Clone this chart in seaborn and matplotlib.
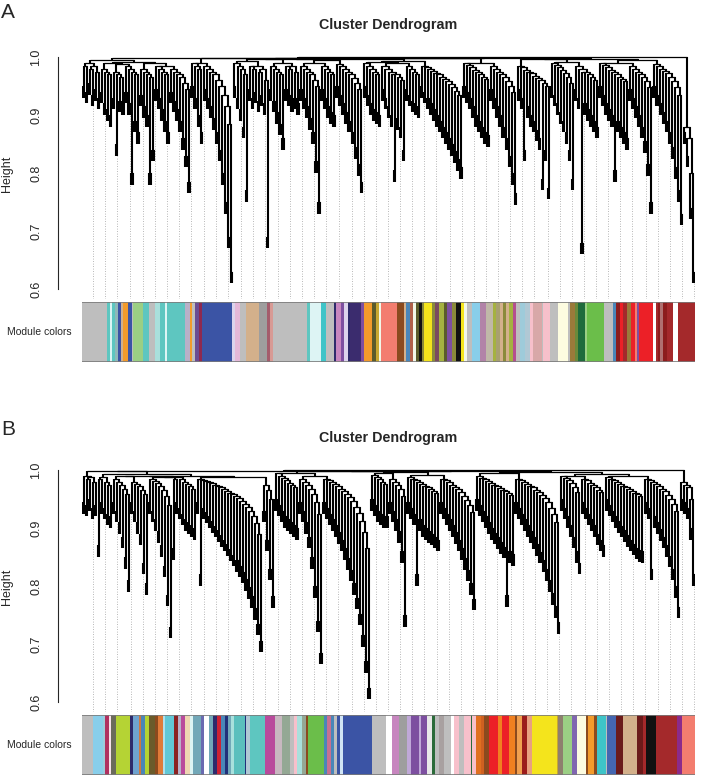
import numpy as np
import matplotlib
matplotlib.use('Agg')
import matplotlib.pyplot as plt
from matplotlib.collections import LineCollection
from matplotlib.colors import ListedColormap
import seaborn as sns

# ---- panel A dendrogram, one entry per branch (x1000):
# (heights where two neighbouring leaves pair up, heights linking consecutive pairs)
a_branches = [
    ("950 940 955 935 945 930", "985 990 980 985 975"),
    ("940 920 910 900", "980 975 970"),
    ("930 850 925 920", "975 970 965"),
    ("940 920 800 890 870", "985 980 975 970"),
    ("935 915 900 800 840", "980 975 970 965"),
    ("945 930 910 890 870", "985 980 975 970"),
    ("940 925 910 890 860 830 785", "980 975 970 965 955 945"),
    ("950 930 900 870", "990 985 980"),
    ("945 930 915 895 870 840 800 750 690 630", "985 980 975 970 960 950 935 915 885"),
    ("950 930 910 880 770", "990 985 980 970"),
    ("945 930 940 925 935 920 690", "985 980 985 975 980 960"),
    ("945 925 905 885 860", "985 980 975 970"),
    ("945 935 925 930 920", "985 980 985 975"),
    ("945 930 915 895 870 820 750", "985 980 975 970 960 950"),
    ("945 930 915 905 900", "985 980 975 970"),
    ("950 935 920 905 890 870 845 815 785", "988 984 980 975 970 963 955 945"),
    ("950 935 920 910 905 900", "990 985 980 975 970"),
    ("945 930 915 900 805 895 880 840", "985 980 975 970 970 965 960"),
    ("945 935 925 920 915", "985 980 975 970"),
    ("950 940 930 920 910 900 890 880 870 860 850 838 824 810",
     "985 982 979 976 973 970 966 962 958 953 948 942 935"),
    ("950 940 930 915 900 890 880 870 865", "990 986 982 978 974 970 966 962"),
    ("945 930 915 900 880 860 830 800 765", "985 980 975 970 965 958 950 940"),
    ("945 930 840 915 900 890 875 860 790 840 775", "985 982 978 975 972 968 964 960 955 950"),
    ("950 935 920 905 890 870 840 790", "990 986 982 978 972 965 955"),
    ("945 930 680 920 910 900 890 880", "985 980 975 975 970 965 960"),
    ("950 935 920 910 900 805 890 880 870 860", "990 986 982 978 974 970 966 962 958"),
    ("945 930 915 900 880 855 815 750", "985 980 975 970 965 958 948"),
    ("950 935 920 905 890 870 845 810 770 730", "988 984 980 976 972 966 958 948 935"),
    ("870 830 740 630", "880 860 800"),
]
# heights joining consecutive branches
a_joins = [995, 990, 988, 992, 990, 985, 999, 990, 998, 993, 996, 990, 996, 990,
           994, 997, 992, 990, 993, 998, 990, 998, 996, 992, 997, 990, 995, 1000]

# ---- panel B dendrogram
b_branches = [
    ("945 940 950 935 940", "990 985 988 980"),
    ("870 945 935 925 920", "985 988 980 975"),
    ("945 930 910 885 850 810", "985 980 975 968 958"),
    ("945 930 910 890 840 805", "980 976 972 966 958"),
    ("945 930 915 895 870 835 785 730", "985 981 977 972 965 955 940"),
    ("865 945 935 925 915 910 905 900", "985 988 984 980 976 972 968"),
    ("945 820 935 928 920 912 904 896 888 880 872 863 854 845 835 825 812 798 782 762 735 706",
     "985 983 981 979 977 975 973 970 967 964 961 958 955 951 947 942 936 929 920 908 890"),
    ("930 880 830 782", "975 965 950"),
    ("950 940 930 920 915 910 905 900", "995 990 986 982 978 974 970"),
    ("945 930 910 885 850 800 740 685", "985 980 975 968 958 944 925"),
    ("945 935 925 915 905 893 880 865 848 828 805 780 752 715 670 625",
     "985 982 979 976 972 968 964 959 953 946 937 926 912 893 865"),
    ("950 940 930 925 920 920", "992 988 984 980 976"),
    ("945 930 915 895 860 750", "985 980 975 968 955"),
    ("945 935 925 820 915 905 900 895 890 885 880", "988 985 982 979 976 973 970 967 964 960"),
    ("945 935 925 915 905 893 880 865 848 828 805 778", "985 982 979 975 971 967 962 956 949 940 928"),
    ("950 940 930 920 910 900 892 884 876 868 784 860 855",
     "990 987 984 981 978 975 972 969 966 963 960 957"),
    ("945 935 925 915 905 895 884 872 859 845 829 810 788 765 738",
     "985 982 979 976 973 970 966 962 957 951 944 935 924 910"),
    ("950 935 920 905 885 860 840", "990 986 982 977 970 962"),
    ("945 935 925 915 905 890 880 870", "985 982 978 974 970 966 962"),
    ("950 940 930 920 912 904 896 888 880 873 866 862 860",
     "988 985 982 979 976 973 970 967 964 961 958 955"),
    ("945 935 830 920 910 898 885 870 852 830 800 764", "985 982 979 976 972 968 963 957 950 941 930"),
    ("950 945 935 900 820", "980 975 970 950"),
]
b_joins = [998, 993, 990, 990, 988, 990, 988, 999, 995, 990, 998,
           994, 996, 992, 998, 994, 996, 990, 993, 990, 1000]

# ---- module colours (name, number of genes) in dendrogram order
a_modules = [
    ('grey', 25), ('turquoise', 3), ('lightcyan', 2), ('turquoise', 3), ('cadetgrey', 3),
    ('blue', 3), ('tan', 2), ('orange', 5), ('blue', 4), ('grey', 1), ('lightgreen', 10),
    ('turquoise', 6), ('grey', 6), ('paleturquoise', 5), ('turquoise', 5), ('lightcyan', 2),
    ('turquoise', 18), ('thistle', 5), ('orange', 2), ('grey', 3), ('darkpurple', 4),
    ('maroon', 3), ('blue', 30), ('lavender', 3), ('plum', 5), ('grey', 6), ('tan', 13),
    ('darkgrey', 8), ('rosy', 3), ('pinkbrown', 3), ('grey', 34), ('turquoise', 3),
    ('lightcyan', 11), ('cyan', 5), ('grey', 8), ('midnightblue', 2), ('orchid', 5),
    ('purple', 3), ('lavender', 4), ('midnightblue', 2), ('darkslateblue', 11), ('purple', 3),
    ('orange', 8), ('darkolive', 4), ('gold', 3), ('honeydew', 2), ('salmon', 16),
    ('saddlebrown', 7), ('tan', 2), ('steelblue', 4), ('sienna', 3), ('honeydew', 3),
    ('darkolive', 3), ('black', 3), ('olive', 2), ('yellow', 8), ('olive', 3),
    ('plumbrown', 4), ('yellowgreen', 5), ('darkolive', 3), ('purple', 5), ('olive', 4),
    ('black', 5), ('yellow', 3), ('honeydew', 3), ('grey', 5), ('skyblue', 8), ('mauve', 6),
    ('greytan', 7), ('yellowgreen', 3), ('olivetan', 4), ('tan', 3), ('olive', 3), ('tan', 3),
    ('yellowgreen', 4), ('violetred', 3), ('grey', 4), ('lightblue', 5), ('lightsteel', 5),
    ('pink', 3), ('rosybrown', 9), ('grey', 1), ('pink', 7), ('grey', 8), ('lightyellow', 10),
    ('grey', 2), ('olivebrown', 5), ('greenolive', 3), ('darkgreen', 7), ('lightgreen', 2),
    ('green', 17), ('grey', 9), ('steelblue', 3), ('darkred', 4), ('red', 3), ('brown', 4),
    ('olivebrown', 4), ('red', 4), ('salmon', 2), ('purple', 2), ('red', 14), ('white', 3),
    ('brown', 2), ('darkred', 2), ('rosy2', 3), ('darkred', 4), ('brown', 6), ('white', 5),
    ('brown', 17),
]
b_modules = [
    ('grey', 11), ('skyblue', 10), ('lightblue', 2), ('maroon2', 4), ('pinkwhite', 2),
    ('dimolive', 5), ('limegreen', 14), ('midnightblue', 3), ('lightsteelblue', 6),
    ('copper', 2), ('steelblue', 4), ('limegreen', 4), ('darkolive2', 6), ('saddlebrown', 3),
    ('darkorange', 5), ('lightsky', 2), ('skyturq', 9), ('firebrick', 4), ('thistle', 3),
    ('violet', 4), ('wheat', 5), ('lightcyan', 3), ('cadet', 8), ('slateblue', 3),
    ('white', 5), ('cadet', 4), ('midnightblue', 4), ('crimson', 4), ('steelblue', 4),
    ('navy', 3), ('cadet', 3), ('paleturquoise', 3), ('medturq', 11), ('navy', 1),
    ('lightsteel', 4), ('turquoise', 15), ('violet', 10), ('silverpink', 7), ('greygreen', 8),
    ('grey', 4), ('pink', 3), ('paleturquoise', 5), ('greygreen', 4), ('saddlebrown', 2),
    ('green', 16), ('steelblue', 3), ('palevioletred', 4), ('steelblue', 3), ('grey', 3),
    ('blue', 3), ('iceblue', 3), ('blue', 29), ('grey', 14), ('white', 6), ('orchid', 7),
    ('darkgrey', 8), ('lavender2', 4), ('purple', 8), ('lavender2', 2), ('purple', 6),
    ('whitesmoke', 5), ('darkgreen2', 3), ('grey', 4), ('greytan2', 5), ('grey', 7),
    ('white', 3), ('pink', 5), ('grey', 5), ('pink', 7), ('darkgreen2', 1), ('pink', 4),
    ('orangered', 5), ('darkorange2', 3), ('saddlebrown', 5), ('red', 9), ('orange2', 4),
    ('red', 7), ('orange2', 6), ('saddlebrown', 2), ('sandy', 5), ('darkred2', 5),
    ('lightsalmon', 5), ('yellow', 25), ('gold', 1), ('greybrown', 5), ('lightgreen', 9),
    ('mediumpurple', 5), ('lightyellow', 9), ('saddlebrown', 2), ('orange', 6),
    ('saddlebrown', 3), ('cyan', 9), ('grey', 1), ('royalblue', 9), ('darkbrown', 7),
    ('tan', 14), ('darkbrown', 6), ('brown', 3), ('black', 10), ('brown', 21),
    ('purple2', 5), ('salmon', 13),
]

module_palette = {
    'grey': '#BEBEBE', 'turquoise': '#5EC6C0', 'lightcyan': '#DDF4F4', 'cadetgrey': '#8FB8B8',
    'blue': '#3B54A5', 'tan': '#D3B08B', 'orange': '#F39B2B', 'lightgreen': '#9BCF84',
    'paleturquoise': '#A9E0DC', 'thistle': '#B8B0C8', 'darkpurple': '#6A4C93',
    'maroon': '#8E2950', 'lavender': '#DCD4EC', 'plum': '#E4B8D8', 'darkgrey': '#9E9E9E',
    'rosy': '#A45C6C', 'pinkbrown': '#D89A94', 'cyan': '#3EC4C8', 'midnightblue': '#2E2A6B',
    'orchid': '#C786BF', 'purple': '#7D4FA0', 'darkslateblue': '#3B2C6E',
    'darkolive': '#5B5B2B', 'gold': '#C8A830', 'honeydew': '#F2F7E8', 'salmon': '#F37D6F',
    'saddlebrown': '#8B4A1E', 'steelblue': '#4A86B8', 'sienna': '#B0604A', 'black': '#111111',
    'olive': '#8A8A3A', 'yellow': '#F4E41C', 'plumbrown': '#7A4A60', 'yellowgreen': '#A5B240',
    'skyblue': '#88CEEA', 'mauve': '#B283A8', 'greytan': '#C0B8A8', 'olivetan': '#A8A070',
    'violetred': '#B5508F', 'lightblue': '#9ECBDA', 'lightsteel': '#B0C8D4', 'pink': '#F7C0CB',
    'rosybrown': '#D8A8A8', 'lightyellow': '#FDFCE0', 'olivebrown': '#9A7A3A',
    'greenolive': '#6A8A3A', 'darkgreen': '#1E6B3C', 'green': '#6BBE4A', 'darkred': '#8C1D1D',
    'red': '#EC2027', 'brown': '#A4292B', 'white': '#FFFFFF', 'rosy2': '#B07070',
    'maroon2': '#B03060', 'pinkwhite': '#F5E0E8', 'dimolive': '#6B6B5B',
    'limegreen': '#B5D334', 'lightsteelblue': '#6FA3CF', 'copper': '#D07840',
    'darkolive2': '#6B5B2B', 'darkorange': '#E07B39', 'lightsky': '#B0E0EC',
    'skyturq': '#62C8D6', 'firebrick': '#8B2222', 'violet': '#B94A9C', 'wheat': '#EED6B2',
    'cadet': '#72A8B8', 'slateblue': '#6A6AB0', 'crimson': '#CC2233', 'navy': '#22307A',
    'medturq': '#5BBFBD', 'silverpink': '#C8B8C0', 'greygreen': '#94A894',
    'palevioletred': '#C87090', 'iceblue': '#D0E4F4', 'lavender2': '#C0A8D8',
    'whitesmoke': '#E8E8E8', 'darkgreen2': '#2B6B3A', 'greytan2': '#A8A0A0',
    'orangered': '#E07020', 'darkorange2': '#D06020', 'orange2': '#F08020', 'sandy': '#F0A050',
    'darkred2': '#9B1B1B', 'lightsalmon': '#E8A080', 'greybrown': '#8E7F6E',
    'mediumpurple': '#8066B0', 'royalblue': '#4466B0', 'darkbrown': '#6B1A1A',
    'purple2': '#8B2A8B',
}

HANG = 0.02
Y_LOW, Y_HIGH = 0.583, 1.005


def branch_gaps(pairs, links):
    lows = [int(v) / 1000 for v in pairs.split()]
    highs = [int(v) / 1000 for v in links.split()]
    out = []
    for lo, hi in zip(lows, highs):
        out += [lo, hi]
    out.append(lows[-1])
    return out


def chain_gaps(branches, joins):
    parts = [branch_gaps(p, l) for p, l in branches]
    gaps = list(parts[0])
    for j, br in zip(joins, parts[1:]):
        gaps.append(j / 1000)
        gaps.extend(br)
    return gaps


def build_tree(gaps, hang):
    # agglomerate neighbouring leaves in order of merge height (hclust on an ordered tree)
    n = len(gaps) + 1
    leaf_h = np.array([min(gaps[j] for j in (i - 1, i) if 0 <= j < n - 1) - hang
                       for i in range(n)])
    owner = list(range(n))
    blocks = {i: (float(i), leaf_h[i], i, i) for i in range(n)}
    vsegs, hsegs = [], []
    for j in sorted(range(n - 1), key=lambda k: gaps[k]):
        g = gaps[j]
        lb, rb = owner[j], owner[j + 1]
        xl, hl, lo, _ = blocks.pop(lb)
        xr, hr, _, hi = blocks.pop(rb)
        vsegs += [[(xl, hl), (xl, g)], [(xr, hr), (xr, g)]]
        hsegs.append([(xl, g), (xr, g)])
        blocks[lb] = ((xl + xr) / 2, g, lo, hi)
        for k in range(lo, hi + 1):
            owner[k] = lb
    return vsegs, hsegs, leaf_h


def draw_dendro(ax, branches, joins):
    gaps = chain_gaps(branches, joins)
    vsegs, hsegs, leaf_h = build_tree(gaps, HANG)
    n = len(leaf_h)
    # guide lines under 50 evenly spaced leaves
    idx = [int(round(k * n / 50)) - 1 for k in range(1, 51)]
    ax.vlines(idx, Y_LOW, leaf_h[idx], colors='#a0a0a0', linestyles=(0, (1, 2)),
              linewidth=0.6, zorder=1)
    ax.add_collection(LineCollection(vsegs, colors='black', linewidths=1.5, zorder=2))
    ax.add_collection(LineCollection(hsegs, colors='black', linewidths=0.9, zorder=2))
    ax.set_xlim(-0.5, n - 0.5)
    ax.set_ylim(Y_LOW, Y_HIGH)
    sns.despine(ax=ax, bottom=True)
    ax.spines['left'].set_position(('outward', 17))
    ax.spines['left'].set_bounds(0.6, 1.0)
    ax.spines['left'].set_linewidth(0.8)
    ax.set_xticks([])
    ax.set_yticks([0.6, 0.7, 0.8, 0.9, 1.0])
    ax.set_yticklabels(['0.6', '0.7', '0.8', '0.9', '1.0'], rotation=90, va='center')
    ax.tick_params(axis='y', length=5.5, width=0.8, labelsize=9, pad=6, direction='out')
    ax.set_facecolor('none')


def draw_colors(ax, modules):
    names = [m for m, _ in modules]
    sizes = [s for _, s in modules]
    uniq = list(dict.fromkeys(names))
    codes = np.repeat([uniq.index(m) for m in names], sizes)[None, :]
    cmap = ListedColormap([module_palette[m] for m in uniq])
    sns.heatmap(codes, ax=ax, cmap=cmap, cbar=False, vmin=-0.5, vmax=len(uniq) - 0.5,
                xticklabels=False, yticklabels=False, rasterized=True)
    ax.axhline(0, color='#7a7a7a', lw=1.2)
    ax.axhline(1, color='#7a7a7a', lw=1.2)


sns.set_style('white')
plt.rcParams['font.family'] = ['Liberation Sans', 'DejaVu Sans']

W, H = 720, 777
fig = plt.figure(figsize=(7.2, 7.77), dpi=100)


def frac_box(x0, y0, x1, y1):
    return [x0 / W, 1 - y1 / H, (x1 - x0) / W, (y1 - y0) / H]


panels = [
    ('A', a_branches, a_joins, a_modules, 0),
    ('B', b_branches, b_joins, b_modules, 413),
]
for letter, branches, joins, modules, dy in panels:
    y_top = 57 + dy - (Y_HIGH - 1.0) * 580
    y_bot = 57 + dy + (1.0 - Y_LOW) * 580
    ax_d = fig.add_axes(frac_box(82, y_top, 695, y_bot))
    draw_dendro(ax_d, branches, joins)
    ax_c = fig.add_axes(frac_box(82, 302 + dy, 695, 362 + dy))
    draw_colors(ax_c, modules)

    fig.text(1 / W, 1 - (12 + dy * 1.01) / H, letter, fontsize=15, ha='left', va='center')
    fig.text(388.5 / W, 1 - (25 + dy) / H, 'Cluster Dendrogram', fontsize=10.3,
             fontweight='bold', ha='center', va='center')
    fig.text(7 / W, 1 - (174 + dy) / H, 'Height', fontsize=9, rotation=90,
             ha='center', va='center')
    fig.text(72 / W, 1 - (332 + dy) / H, 'Module colors', fontsize=7.5,
             ha='right', va='center')

fig.savefig('out.png', dpi=100)
